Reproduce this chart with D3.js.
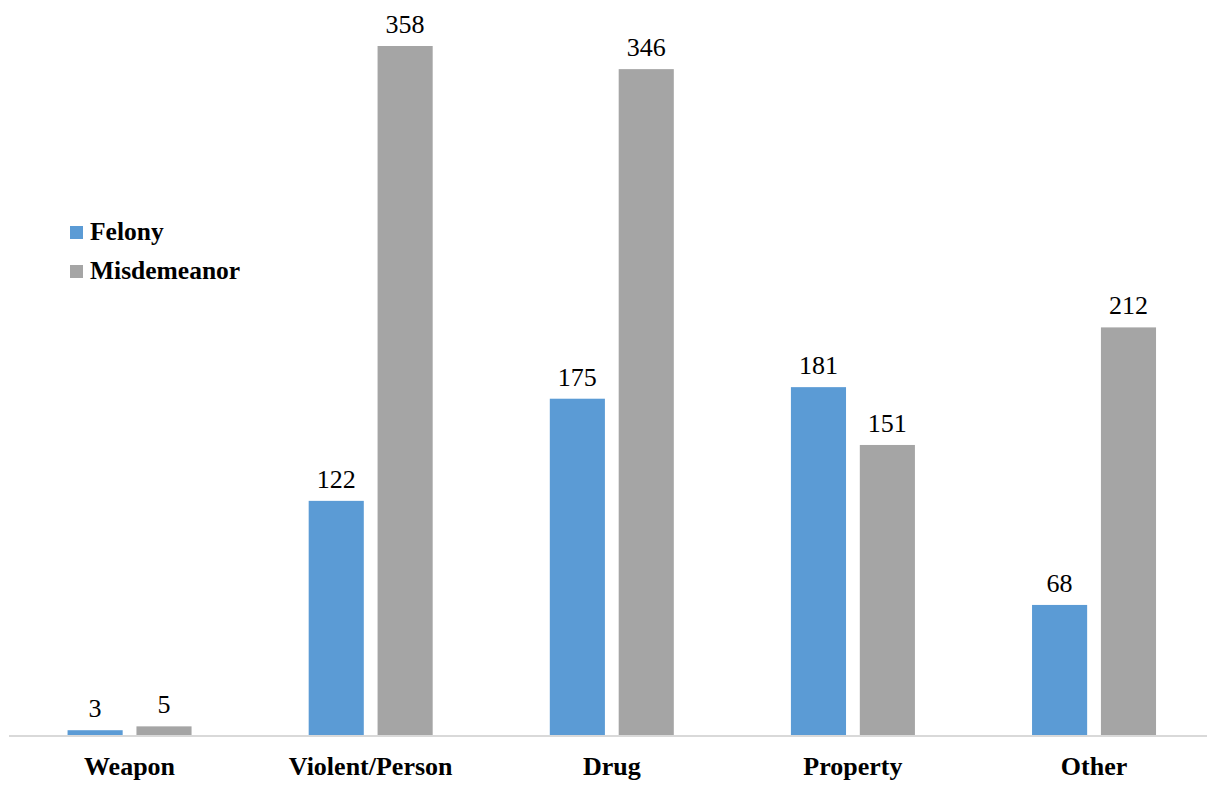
<!DOCTYPE html>
<html>
<head>
<meta charset="utf-8">
<script src="https://cdn.jsdelivr.net/npm/d3@7"></script>
<style>
  html, body { margin: 0; padding: 0; background: #fff; }
  svg { display: block; font-family: "Liberation Serif", "Times New Roman", serif; }
  svg text { font-family: "Liberation Serif", "Times New Roman", serif !important; }
</style>
</head>
<body style="margin:0">
<svg id="chart" width="1207" height="786" font-family="Liberation Serif"></svg>
<script>
const categories = ["Weapon", "Violent/Person", "Drug", "Property", "Other"];
const seriesNames = ["Felony", "Misdemeanor"];
const felony = [3, 122, 175, 181, 68];
const misdemeanor = [5, 358, 346, 151, 212];
const colors = ["#5B9BD5", "#A5A5A5"];

const svg = d3.select("#chart");
const baseY = 736;

const x = d3.scaleBand().domain(categories).range([9, 1214.6]).paddingInner(0).paddingOuter(0);
const inner = d3.scaleBand().domain(seriesNames).range([x.bandwidth()/2 - 62, x.bandwidth()/2 + 62]).paddingInner(0.2).paddingOuter(0);
const y = d3.scaleLinear().domain([0, 358]).range([baseY, 46]);

const data = categories.map((c, i) => ({cat: c, vals: [felony[i], misdemeanor[i]]}));

const groups = svg.selectAll("g.grp").data(data).enter().append("g")
  .attr("class", "grp")
  .attr("transform", d => `translate(${x(d.cat)},0)`);

groups.selectAll("rect").data(d => d.vals.map((v, j) => ({v, s: seriesNames[j], j})))
  .enter().append("rect")
  .attr("x", d => inner(d.s))
  .attr("width", inner.bandwidth())
  .attr("y", d => y(d.v))
  .attr("height", d => baseY - y(d.v))
  .attr("fill", d => colors[d.j]);

groups.selectAll("text.val").data(d => d.vals.map((v, j) => ({v, s: seriesNames[j], j})))
  .enter().append("text")
  .attr("class", "val")
  .attr("x", d => inner(d.s) + inner.bandwidth()/2)
  .attr("y", d => y(d.v) - 13)
  .attr("text-anchor", "middle")
  .style("font-size", "26px")
  .style("fill", "#000")
  .text(d => d.v);

const xAxis = d3.axisBottom(x).tickSize(0).tickPadding(22);
const axG = svg.append("g").attr("transform", `translate(0,${baseY})`).call(xAxis);
axG.attr("font-family", null).attr("font-size", null);
axG.select(".domain").attr("stroke", "#D9D9D9").attr("stroke-width", 2)
  .attr("d", `M9,0H1207`);
axG.selectAll(".tick text")
  .style("font-size", "26px")
  .style("font-weight", "bold")
  .style("fill", "#000")
  .attr("dy", null)
  .attr("y", 39);

const leg = svg.append("g").attr("transform", "translate(70,226)");
seriesNames.forEach((s, i) => {
  const g = leg.append("g").attr("transform", `translate(0,${i*39})`);
  g.append("rect").attr("width", 13).attr("height", 13).attr("fill", colors[i]);
  g.append("text").attr("x", 20).attr("y", 14)
    .style("font-size", "25.5px").style("font-weight", "bold").style("fill", "#000")
    .text(s);
});
</script>
</body>
</html>
